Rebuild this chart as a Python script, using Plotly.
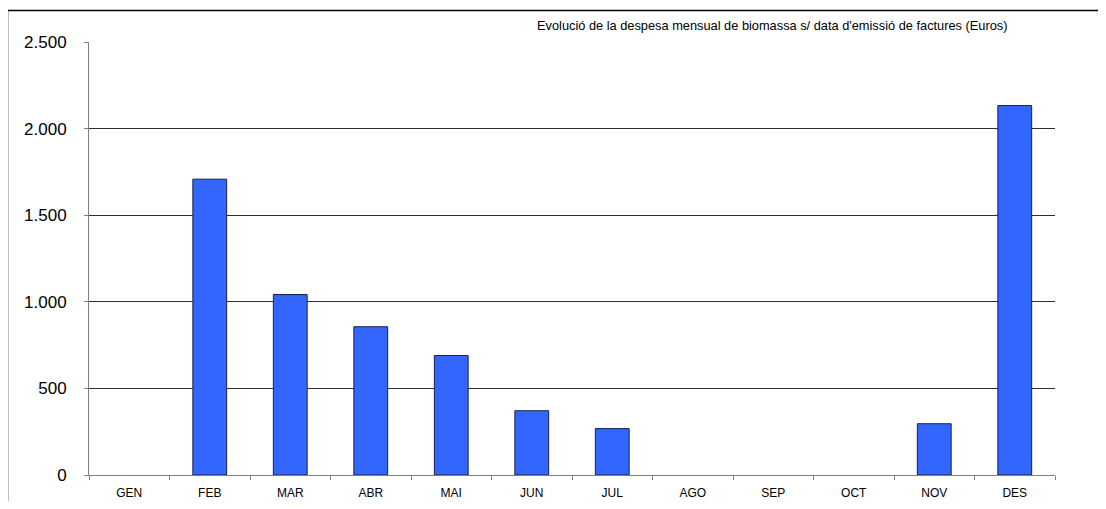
import plotly.graph_objects as go

months = ["GEN", "FEB", "MAR", "ABR", "MAI", "JUN", "JUL", "AGO", "SEP", "OCT", "NOV", "DES"]
values = [0, 1708, 1042, 856, 690, 371, 268, 0, 0, 0, 296, 2133]
title_text = "Evolució de la despesa mensual de biomassa s/ data d'emissió de factures (Euros)"

fig = go.Figure()
fig.add_trace(go.Bar(
    x=months, y=values,
    marker=dict(color="#3366FF",
                line=dict(color="#1a1f4d", width=[1 if v > 0 else 0 for v in values])),
    width=0.42,
))

OFF = 8  # page body offset
W, H = 1106 - 2 * OFF, 509 - 2 * OFF
L, T = 89 - OFF, 42 - OFF
R = (W + OFF) - 1055
B = (H + OFF) - 475
pw, ph = W - L - R, H - T - B

def px2x(px):
    return (px - OFF - L) / pw

def py2y(py):
    return (H - B - (py - OFF)) / ph

fig.update_layout(
    width=W, height=H,
    margin=dict(l=L, r=R, t=T, b=B, autoexpand=False),
    paper_bgcolor="white", plot_bgcolor="white",
    separators=",.",
    showlegend=False,
    font=dict(family="Liberation Sans, Arial", color="#000000"),
    xaxis=dict(
        type="category",
        automargin=False,
        showline=True, linecolor="#808080", linewidth=1,
        ticks="outside", ticklen=4, tickcolor="#808080",
        tickson="boundaries",
        tickfont=dict(size=12),
        ticklabelstandoff=7,
        showgrid=False,
        fixedrange=True,
    ),
    yaxis=dict(
        range=[0, 2500], dtick=500, tickformat=",d",
        automargin=False,
        showline=True, linecolor="#808080", linewidth=1,
        ticks="outside", ticklen=4, tickcolor="#808080",
        showgrid=True, gridcolor="#303030", gridwidth=1,
        zeroline=False,
        tickfont=dict(size=17),
        ticklabelstandoff=14,
    ),
    shapes=[dict(
        type="rect", xref="paper", yref="paper",
        x0=px2x(7.5), x1=px2x(1110), y0=py2y(520), y1=py2y(10.5),
        line=dict(color="#000000", width=1.5), fillcolor="rgba(0,0,0,0)",
    )],
    annotations=[dict(
        text=title_text, xref="paper", yref="paper",
        x=px2x(1010), y=py2y(25), xanchor="right", yanchor="middle",
        showarrow=False, font=dict(size=12.8, color="#000000"),
    )],
)

fig.write_html("out.html")
